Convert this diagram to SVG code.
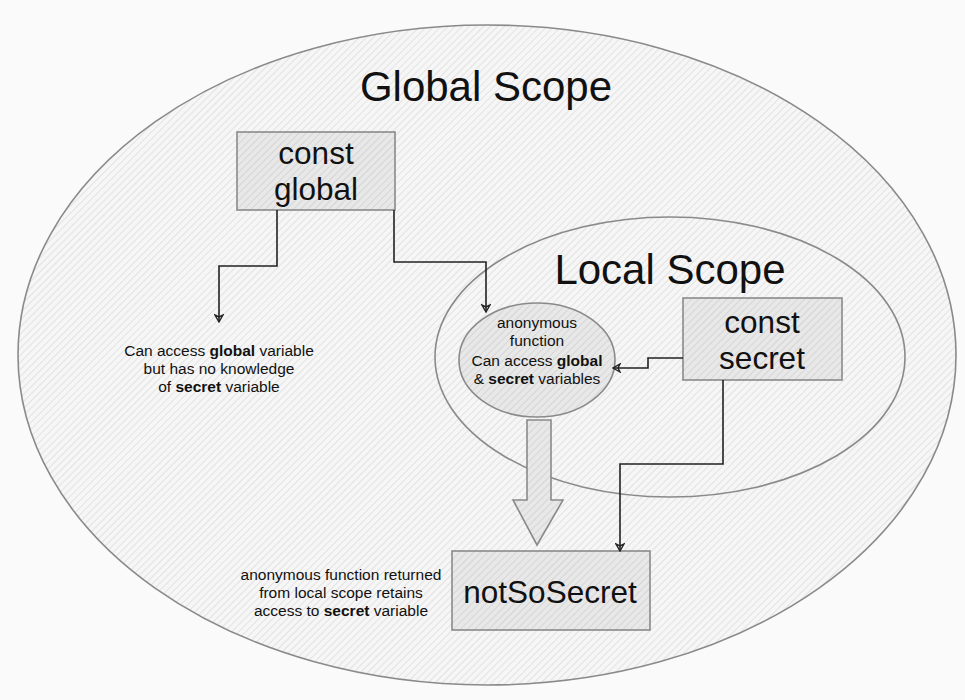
<svg xmlns="http://www.w3.org/2000/svg" width="965" height="700" viewBox="0 0 965 700">
<style>
.t{font-family:"Liberation Sans",Arial,sans-serif;fill:#111;text-anchor:middle}
.big{font-size:42px}
.box{font-size:31.5px}
.sm{font-size:15.5px}
.b{font-weight:bold}
.conn{fill:none;stroke:#222;stroke-width:1.6}
.shape{stroke:#8a8a8a;stroke-width:1.6}
</style>
<defs>
<pattern id="hatch" patternUnits="userSpaceOnUse" width="5" height="5" patternTransform="rotate(45)">
<rect width="5" height="5" fill="#f6f6f6"/>
<line x1="0" y1="0" x2="0" y2="5" stroke="#c9c9c9" stroke-width="0.9"/>
</pattern>
<pattern id="hatch2" patternUnits="userSpaceOnUse" width="5" height="5" patternTransform="rotate(45)">
<rect width="5" height="5" fill="#e8e8e8"/>
<line x1="0" y1="0" x2="0" y2="5" stroke="#c2c2c2" stroke-width="1"/>
</pattern>
<marker id="arr" viewBox="0 0 10 10" refX="9" refY="5" markerWidth="10" markerHeight="10" markerUnits="userSpaceOnUse" orient="auto">
<path d="M2,1 L9,5 L2,9 L4,5 Z" fill="none" stroke="#222" stroke-width="1.4"/>
</marker>
</defs>
<rect width="965" height="700" fill="#fafafa"/>
<g id="global-scope">
<ellipse class="shape" cx="487" cy="355" rx="469" ry="330" fill="url(#hatch)"/>
<text class="t big" x="486" y="101">Global Scope</text>
</g>
<g id="local-scope">
<ellipse class="shape" cx="670" cy="357" rx="235" ry="140" fill="url(#hatch)"/>
<text class="t big" x="670" y="284">Local Scope</text>
</g>
<g id="const-global">
<rect class="shape" x="237" y="132" width="158" height="78" fill="url(#hatch2)"/>
<text class="t box" x="316" y="164">const</text>
<text class="t box" x="316" y="200">global</text>
</g>
<g id="global-note">
<text class="t sm" x="219" y="356">Can access <tspan class="b">global</tspan> variable</text>
<text class="t sm" x="219" y="374">but has no knowledge</text>
<text class="t sm" x="219" y="392">of <tspan class="b">secret</tspan> variable</text>
</g>
<g id="anonymous-function">
<ellipse class="shape" cx="537" cy="360" rx="78" ry="57" fill="url(#hatch2)"/>
<text class="t sm" x="537" y="328">anonymous</text>
<text class="t sm" x="537" y="346">function</text>
<text class="t sm" x="537" y="366">Can access <tspan class="b">global</tspan></text>
<text class="t sm" x="537" y="384">&amp; <tspan class="b">secret</tspan> variables</text>
</g>
<g id="const-secret">
<rect class="shape" x="683" y="298" width="159" height="82" fill="url(#hatch2)"/>
<text class="t box" x="762" y="333">const</text>
<text class="t box" x="762" y="369">secret</text>
</g>
<g id="not-so-secret">
<rect class="shape" x="452" y="551" width="198" height="79" fill="url(#hatch2)"/>
<text class="t box" x="550" y="603">notSoSecret</text>
</g>
<g id="return-note">
<text class="t sm" x="341" y="580">anonymous function returned</text>
<text class="t sm" x="341" y="598">from local scope retains</text>
<text class="t sm" x="341" y="616">access to <tspan class="b">secret</tspan> variable</text>
</g>
<g id="connectors">
<path class="conn" d="M277,210 V266 H219 V322" marker-end="url(#arr)"/>
<path class="conn" d="M394,210 V262 H486 V312" marker-end="url(#arr)"/>
<path class="conn" d="M683,358 H648 V368 H613" marker-end="url(#arr)"/>
<path class="conn" d="M723,380 V464 H620 V551" marker-end="url(#arr)"/>
<path d="M527,420 H551 V500 H563 L537,545 L513,500 H527 Z" fill="url(#hatch2)" stroke="#8a8a8a" stroke-width="1.6"/>
</g>
</svg>
